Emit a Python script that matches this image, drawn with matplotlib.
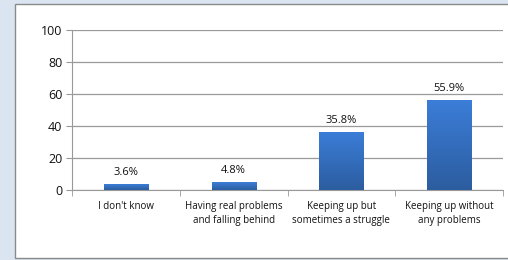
import matplotlib
matplotlib.use("Agg")
import matplotlib.pyplot as plt
from matplotlib.patches import Rectangle
from matplotlib.colors import LinearSegmentedColormap
import numpy as np

categories = ["I don't know", "Having real problems\nand falling behind",
              "Keeping up but\nsometimes a struggle", "Keeping up without\nany problems"]
values = [3.6, 4.8, 35.8, 55.9]
labels = ["3.6%", "4.8%", "35.8%", "55.9%"]
yticks = [0, 20, 40, 60, 80, 100]

plt.rcParams['font.family'] = ['Open Sans', 'DejaVu Sans']

fig = plt.figure(figsize=(5.08, 2.6), dpi=100)
fig.patch.set_facecolor("#dbe5f1")

# white panel with border (runs off the right edge)
panel = Rectangle((15 / 508, 1 - 258 / 260), 500 / 508, 254 / 260, transform=fig.transFigure,
                  facecolor="white", edgecolor="#8a8a8a", linewidth=1.0, zorder=-10)
fig.patches.append(panel)

ax = fig.add_axes([72 / 508, 1 - 190 / 260, 431 / 508, 160 / 260])
ax.set_facecolor("none")

x = np.arange(len(categories))
width = 0.41

# gradient bars
grad = np.linspace(0, 1, 100).reshape(-1, 1)
cmap = LinearSegmentedColormap.from_list("bar", ["#2c5d9f", "#3b7dd8"])
bars = ax.bar(x, values, width, color="none", edgecolor="none")
for b in bars:
    ax.imshow(grad, cmap=cmap, aspect="auto", origin="lower",
              extent=(b.get_x(), b.get_x() + b.get_width(), 0, b.get_height()), zorder=3)
for xi, v, lab in zip(x, values, labels):
    ax.text(xi, v + 4, lab, ha="center", va="bottom", fontsize=8, color="#111111")

ax.set_xlim(-0.5, len(categories) - 0.5)
ax.set_ylim(0, 100)
ax.set_yticks(yticks)
ax.set_yticklabels([str(t) for t in yticks], fontsize=9, color="#111111")
ax.yaxis.grid(True, color="#999999", linewidth=0.9)
ax.set_axisbelow(True)

ax.set_xticks(x)
ax.set_xticklabels(categories, fontsize=7, color="#111111", linespacing=1.3)
ax.tick_params(axis="x", length=0, pad=8)
ax.set_xticks(np.arange(-0.5, len(categories)), minor=True)
ax.tick_params(axis="x", which="minor", length=4, color="#999999")
ax.tick_params(axis="y", length=4, color="#999999", pad=3)

for side in ["top", "right"]:
    ax.spines[side].set_visible(False)
ax.spines["left"].set_color("#999999")
ax.spines["bottom"].set_color("#999999")

fig.savefig("out.png", dpi=100, facecolor=fig.get_facecolor())
